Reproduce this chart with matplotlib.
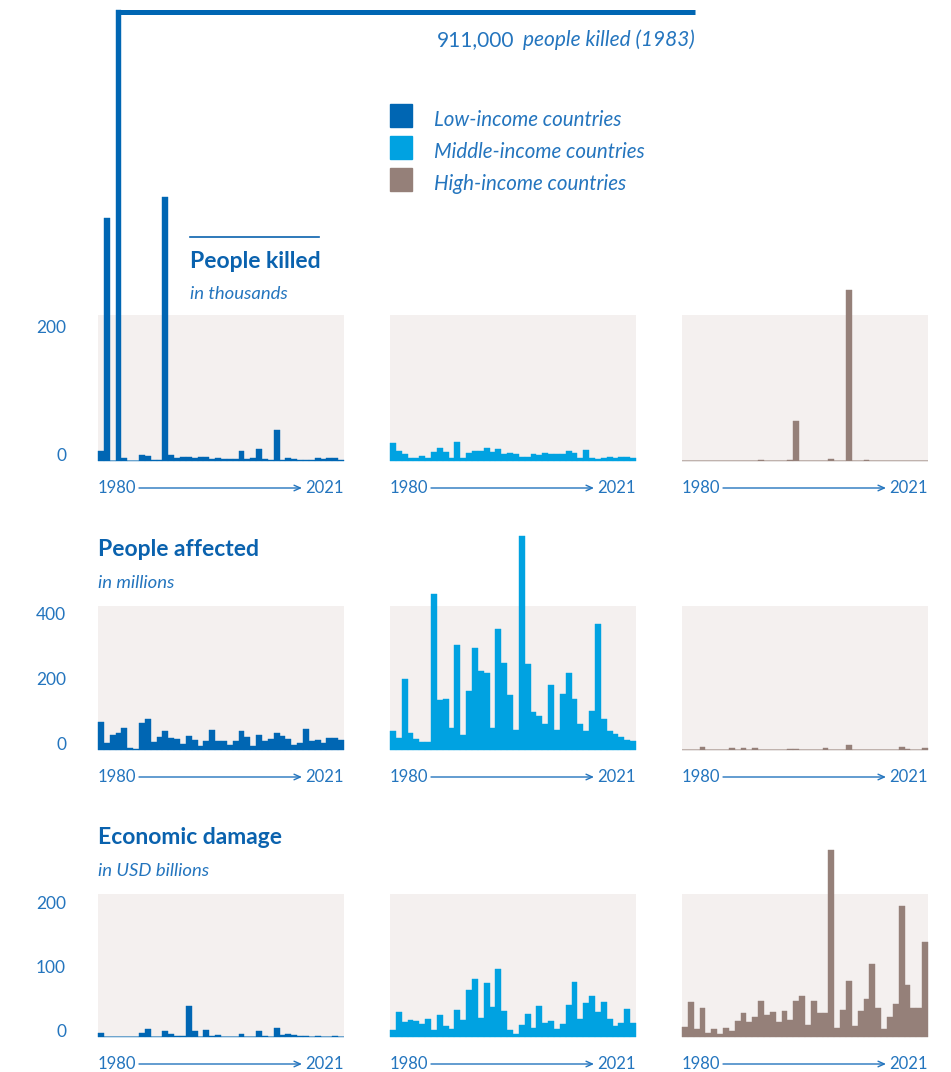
import matplotlib
matplotlib.use("Agg")
import matplotlib.pyplot as plt
from matplotlib.patches import Rectangle
from matplotlib.lines import Line2D

W, H = 951, 1072

years = list(range(1980, 2022))
groups = ["Low-income countries", "Middle-income countries", "High-income countries"]
group_colors = ["#0066B3", "#00A2E1", "#958079"]

# people killed, thousands
killed_low = [16, 379, 0, 911, 4, 0.5, 0.5, 10, 8, 1.5, 1.5, 413, 9, 5, 7, 6, 5, 7, 6, 3,
              5, 2.5, 2.5, 2.5, 16, 3, 5, 18, 2.5, 1, 48, 1.5, 4, 2.5, 2, 2, 2, 4, 3, 4, 4, 1.5]
killed_mid = [27.6, 15, 11, 5, 4, 8, 5, 13.5, 20, 13.5, 4.7, 29, 5, 12.5, 15, 15, 20, 14.6, 18, 10.4,
              12, 11, 7, 7, 10.4, 10, 12, 11, 11, 11, 15, 12.5, 4, 16.6, 4.7, 3.6, 4.7, 6.8, 4.7, 6.8, 6.8, 4.7]
killed_high = [0, 0, 0, 0, 0, 0, 0, 0, 0, 0, 0, 0, 0, 2, 0, 0, 0, 0, 2, 63,
               0, 0, 0, 0, 0, 3.6, 0, 0, 267, 0, 0, 2, 0, 0, 0, 0, 0, 0, 0, 0, 0, 0]

# people affected, millions
affected_low = [86, 23, 47, 53, 68, 6, 3, 84, 95, 25, 40, 58, 37, 34, 18, 43, 31, 12, 28, 62,
                28, 28, 15, 28, 58, 40, 12, 46, 28, 34, 52, 43, 34, 15, 22, 65, 28, 31, 22, 37, 37, 31]
affected_mid = [58, 37, 218, 52, 34, 25, 25, 480, 154, 157, 68, 323, 46, 182, 314, 243, 237, 68, 372, 268,
                169, 62, 658, 265, 117, 105, 80, 200, 62, 172, 237, 157, 80, 58, 120, 388, 95, 58, 49, 40, 31, 28]
affected_high = [0, 0, 0, 10, 0, 0, 0, 0, 6, 0, 6, 0, 6, 0, 0, 0, 0, 0, 3, 3,
                 0, 0, 0, 0, 6, 0, 0, 0, 15, 0, 0, 0, 0, 0, 0, 0, 0, 9, 3, 0, 0, 6]

# economic damage, USD billions
damage_low = [6, 0.5, 0, 0.5, 0, 0.5, 0, 6, 12.5, 0, 0, 9.4, 4.7, 1.5, 1.5, 48, 9.4, 0.5, 11, 1.5,
              3, 0.5, 0.5, 0.5, 4.7, 0.5, 0.5, 9.4, 1, 0.5, 14, 3, 4.7, 3, 1.5, 1.5, 0.5, 1.5, 0.5, 0.5, 1.5, 0.5]
damage_mid = [11, 39, 23, 27, 25, 20, 28, 11, 34, 17, 12.5, 42, 27, 73, 91, 30, 84, 47, 106, 41,
              11, 5, 19, 36, 14, 48, 22, 25, 12.5, 20, 50, 86, 28, 53, 64, 39, 55, 28, 17, 22, 44, 22]
damage_high = [15, 54, 12, 45, 7, 12, 4, 13.5, 9, 24.5, 37, 23, 32, 56, 35, 38.5, 23, 40, 26, 56,
               63.5, 18, 57, 37, 37, 292, 13.5, 42, 87, 17, 40, 60, 113.5, 45, 12, 32, 51, 204, 82, 45, 46, 148]

killed_ticks = [0, 200]
affected_ticks = [0, 200, 400]
damage_ticks = [0, 100, 200]

BG = "#F4F0EF"
TITLE_C = "#0A62AE"
TEXT_C = "#2475BE"
FONT = ["Lato", "DejaVu Sans"]
plt.rcParams["font.family"] = FONT

# layout in pixels: panel lefts, width; per row baseline / top of grey and px per unit
COL_X = [98, 390, 682]
PANEL_W = 246
rows = [
    dict(series=[killed_low, killed_mid, killed_high], ticks=killed_ticks, ppu=0.64, base=461, top=315, cap=705),
    dict(series=[affected_low, affected_mid, affected_high], ticks=affected_ticks, ppu=0.325, base=750, top=606, cap=None),
    dict(series=[damage_low, damage_mid, damage_high], ticks=damage_ticks, ppu=0.64, base=1037, top=894, cap=None),
]

fig = plt.figure(figsize=(W / 100, H / 100), dpi=100)


def fx(x):
    return x / W


def fy(y):
    return 1 - y / H


for row in rows:
    h_px = row["base"] - row["top"]
    for c, vals in enumerate(row["series"]):
        color = group_colors[c]
        ax = fig.add_axes([fx(COL_X[c]), fy(row["base"]), PANEL_W / W, h_px / H])
        ax.set_facecolor(BG)
        for s in ax.spines.values():
            s.set_visible(False)
        ax.set_xlim(years[0] - 0.5, years[-1] + 0.5)
        ax.set_ylim(0, h_px / row["ppu"])
        cap = row["cap"]
        shown = [min(v, cap) if cap else v for v in vals]
        ax.axhline(0, color=color, lw=1.2, alpha=0.5, zorder=1)
        ax.bar(years, shown, width=1.0, color=color, edgecolor=color, linewidth=0.3,
               clip_on=False, zorder=2)
        ax.set_xticks([])
        if c == 0:
            ax.set_yticks(row["ticks"])
            ax.set_yticklabels([str(t) for t in row["ticks"]], color=TEXT_C, fontsize=12.5)
            for lbl in ax.get_yticklabels():
                lbl.set_va("baseline")
            ax.tick_params(axis="y", length=0, pad=23)
        else:
            ax.set_yticks([])

        # year range under each panel
        yoff = -27 / h_px
        ax.text(0, yoff, str(years[0]), transform=ax.transAxes, ha="left", va="center",
                color=TEXT_C, fontsize=12)
        ax.text(1, yoff, str(years[-1]), transform=ax.transAxes, ha="right", va="center",
                color=TEXT_C, fontsize=12)
        ax.annotate("", xy=(204 / PANEL_W, yoff), xytext=(41 / PANEL_W, yoff),
                    xycoords="axes fraction", textcoords="axes fraction",
                    arrowprops=dict(arrowstyle="->,head_length=0.45,head_width=0.2",
                                    color=TEXT_C, lw=1.0, shrinkA=0, shrinkB=0),
                    annotation_clip=False)

        # broken bar for the 1983 outlier: bar stops at cap, then runs right to the label
        if cap:
            for yr, v in zip(years, vals):
                if v > cap:
                    y_line = cap - 2.5 / row["ppu"]
                    x_end = ax.transData.inverted().transform(fig.transFigure.transform((fx(695), 0)))[0]
                    ax.plot([yr - 0.5, x_end], [y_line, y_line], color=color, lw=3.6,
                            solid_capstyle="butt", clip_on=False, zorder=2)
                    t = fig.text(fx(695), fy(40), f"people killed ({yr})", ha="right", va="center",
                                 style="italic", color=TEXT_C, fontsize=15)
                    bb = t.get_window_extent(renderer=fig.canvas.get_renderer())
                    fig.text((bb.x0 - 9) / W, fy(40), f"{int(v * 1000):,}", ha="right", va="center",
                             color=TEXT_C, fontsize=15)

# titles
fig.add_artist(Line2D([fx(190), fx(319)], [fy(237), fy(237)], color=TITLE_C, lw=1.2))
fig.text(fx(190), fy(261), "People killed", fontsize=16.5, fontweight="bold", color=TITLE_C, va="center")
fig.text(fx(190), fy(294), "in thousands", fontsize=13.3, style="italic", color=TEXT_C, va="center")
fig.text(fx(98), fy(550), "People affected", fontsize=16.5, fontweight="bold", color=TITLE_C, va="center")
fig.text(fx(98), fy(583), "in millions", fontsize=13.3, style="italic", color=TEXT_C, va="center")
fig.text(fx(98), fy(838), "Economic damage", fontsize=16.5, fontweight="bold", color=TITLE_C, va="center")
fig.text(fx(98), fy(871), "in USD billions", fontsize=13.3, style="italic", color=TEXT_C, va="center")

# legend
for i, (name, color) in enumerate(zip(groups, group_colors)):
    top = 104 + 32 * i
    fig.add_artist(Rectangle((fx(390), fy(top + 23)), 22 / W, 23 / H, color=color,
                             transform=fig.transFigure))
    fig.text(fx(434), fy(120 + 32 * i), name, fontsize=14.8, style="italic", color=TEXT_C, va="center")

fig.savefig("out.png", dpi=100)
